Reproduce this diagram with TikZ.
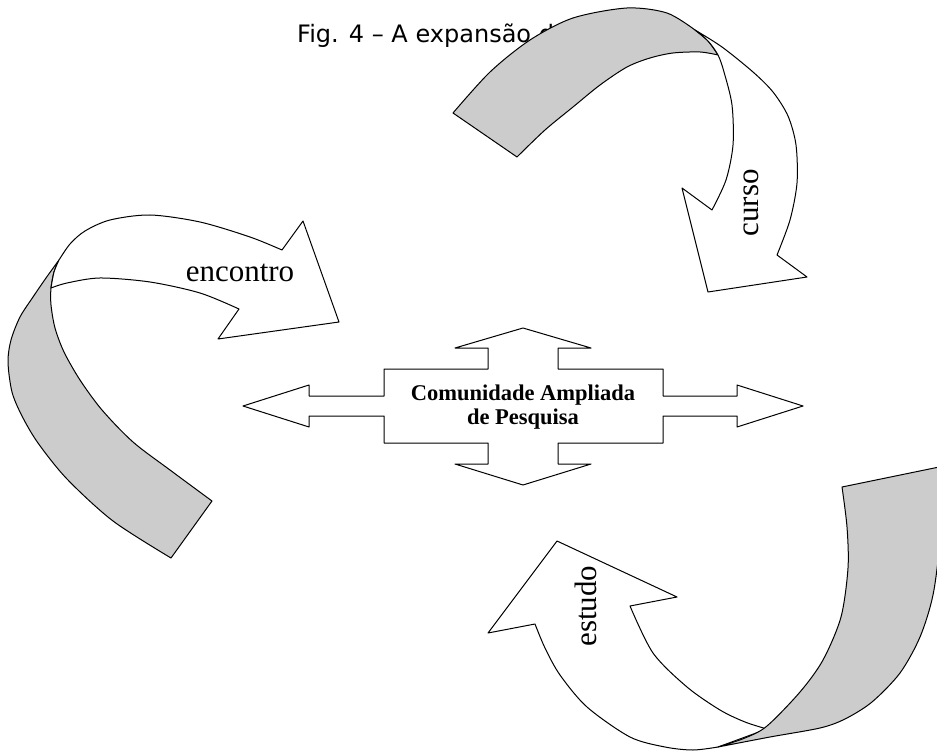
\documentclass[tikz,border=0pt]{standalone}
\usepackage{fontspec}
\setmainfont{Liberation Serif}
\newfontfamily\titlefont{DejaVu Sans}
\definecolor{backgray}{RGB}{204,204,204}
\tikzset{
  ribbon/.style={draw=black, line width=1pt, line join=round},
  front/.style={ribbon, fill=white},
  back/.style={ribbon, fill=backgray},
  lbl/.style={font=\fontsize{31}{31}\selectfont, inner sep=0pt, anchor=base},
  hubtext/.style={font=\bfseries\fontsize{22.5}{25}\selectfont, inner sep=0pt, anchor=base},
}
\begin{document}
\begin{tikzpicture}[x=1pt,y=-1pt]
\useasboundingbox (0,0) rectangle (937,751);
\clip (0,0) rectangle (937,751);

% caption, partly hidden under the top ribbon
\node[font=\titlefont\fontsize{24}{26}\selectfont, anchor=base west, inner sep=0pt] (title) at (297,43) {Fig. 4 – A expansão da};

% ---- left ribbon: "encontro"
\draw[back] (59,260) -- plot[smooth] coordinates {(59,260) (46,278) (33,297) (20,317) (11,340) (8,362) (12,392) (22,416) (38,443) (67,479) (113,521) (171,558)}
  -- (212,501)
  -- plot[smooth] coordinates {(212,501) (170,470) (133,442) (102,410) (80,380) (64,352) (55,328) (51,305) (51,288) (54,272) (59,260)} -- cycle;
\draw[front] (59,260) -- plot[smooth] coordinates {(59,260) (70,244) (85,231) (110,220) (150,215) (200,222) (250,237) (282,250)}
  -- (303,221) -- (339,322) -- (218,339) -- (239,309)
  -- plot[smooth] coordinates {(239,309) (200,293) (150,282) (100,278) (67,283) (51,288)}
  -- plot[smooth] coordinates {(51,288) (54,272) (59,260)} -- cycle;
\node[lbl] (encontro) at (240,282) {encontro};

% ---- top ribbon: "curso"
\draw[back] (453,113) -- plot[smooth] coordinates {(453,113) (490,72) (530,40) (573,18) (627,8) (667,13) (695,30)}
  -- plot[smooth] coordinates {(695,30) (708,41) (718,55)}
  -- plot[smooth] coordinates {(718,55) (700,52) (673,53) (650,58) (627,67) (600,85) (573,107) (545,130) (517,157)} -- cycle;
\draw[front] (695,30) -- plot[smooth] coordinates {(695,30) (722,47) (753,72) (773,92) (788,116) (796,145) (797,183) (790,220) (777,255)}
  -- (807,277) -- (708,292) -- (682,188) -- (712,210)
  -- plot[smooth] coordinates {(712,210) (726,180) (733,145) (732,105) (724,72) (718,55) (708,41) (695,30)} -- cycle;
\node[lbl, rotate=90] (curso) at (758,203) {curso};

% ---- bottom ribbon: "estudo"
\draw[front] (718,747) -- plot[smooth] coordinates {(718,747) (693,750) (665,747) (630,737) (587,707) (560,675) (545,648) (535,624)}
  -- (488,633) -- (557,541) -- (677,597) -- (630,606)
  -- plot[smooth] coordinates {(630,606) (653,653) (687,687) (720,710) (745,722) (767,729)}
  -- (718,747) -- cycle;
\draw[back] (718,747) -- plot[smooth] coordinates {(718,747) (770,737) (820,728) (845,719) (872,702) (900,673) (920,637) (933,595) (940,540) (944,466)}
  -- (842,487)
  -- plot[smooth] coordinates {(842,487) (847,527) (848,568) (841,617) (823,660) (800,692) (767,726) (745,738) (718,747)} -- cycle;
\node[lbl, rotate=90] (estudo) at (596,606) {estudo};

% ---- central four-way arrow
\draw[front] (523,328) -- (591,348) -- (558,348) -- (558,369) -- (663,369) -- (663,396)
  -- (737,396) -- (737,385) -- (803,406) -- (737,427) -- (737,416) -- (663,416)
  -- (663,443) -- (558,443) -- (558,464) -- (591,464) -- (523,485) -- (455,464)
  -- (488,464) -- (488,443) -- (384,443) -- (384,416) -- (309,416) -- (309,427)
  -- (243,406) -- (309,385) -- (309,396) -- (384,396) -- (384,369) -- (488,369)
  -- (488,348) -- (455,348) -- cycle;
\node[hubtext] (hubA) at (523,400) {Comunidade Ampliada};
\node[hubtext] (hubB) at (523,424) {de Pesquisa};
\end{tikzpicture}
\end{document}
